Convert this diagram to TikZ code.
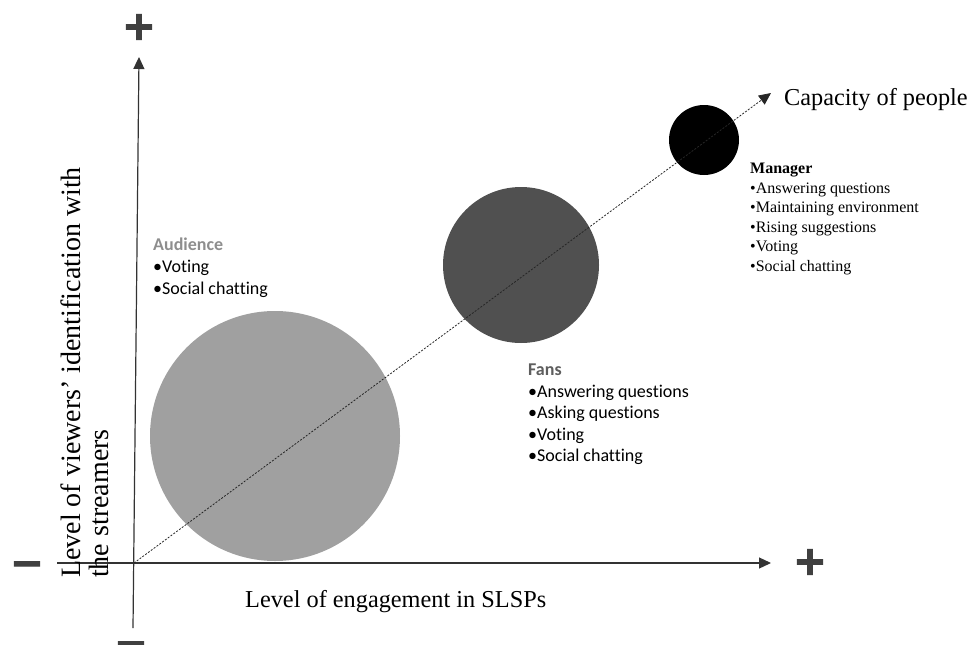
\documentclass[tikz,border=0pt]{standalone}
\usepackage{fontspec}
\setmainfont{Liberation Serif}
\newfontfamily\calib[Ligatures={NoCommon}]{Carlito}
\newfontfamily\signf[BoldFeatures={FakeBold=2.5}]{DejaVu Sans}
\usetikzlibrary{arrows.meta}
\definecolor{audfill}{HTML}{A0A0A0}
\definecolor{fanfill}{HTML}{505050}
\definecolor{audtext}{HTML}{8E8E8E}
\definecolor{fantext}{HTML}{5E5E5E}
\definecolor{signcol}{HTML}{404040}
\begin{document}
\begin{tikzpicture}[x=1pt,y=-1pt,
  axis/.style={line width=1.2pt, draw=black!80, -{Triangle[length=12pt,width=11pt]}},
  diag/.style={line width=0.8pt, draw=black!85, dash pattern=on 2pt off 1.5pt, -{Triangle[length=12pt,width=11pt]}},
  sign/.style={font=\signf\bfseries\fontsize{40}{40}\selectfont, text=signcol, inner sep=0pt},
  blob/.style={circle, draw=none, inner sep=0pt},
  serifbig/.style={font=\fontsize{24.3}{28}\selectfont, inner sep=0pt},
  ylab/.style={font=\fontsize{28}{32}\selectfont, inner sep=0pt, rotate=90, anchor=base west},
  clist/.style={font=\calib\fontsize{18}{22}\selectfont, align=left, anchor=north west, inner sep=0pt},
  tlist/.style={font=\fontsize{16}{19.5}\selectfont, align=left, anchor=north west, inner sep=0pt}
]
\useasboundingbox (0,0) rectangle (972,645);

% bubbles
\node[blob, fill=audfill, minimum size=250pt] (aud) at (275,436) {};
\node[blob, fill=fanfill, minimum size=156pt] (fans) at (521,265) {};
\node[blob, fill=black, minimum size=70pt] (mgr) at (704,140) {};

% axes
\coordinate (O) at (134,563);
\coordinate (xs) at (57,563);
\coordinate (xe) at (771,563);
\coordinate (yb) at (133,628);
\coordinate (yt) at (139,57);
\draw[axis] (xs) -- (xe);
\draw[axis] (yb) -- (yt);

% diagonal
\coordinate (ce) at (771,93);
\draw[diag] (O) -- (ce);
\node[serifbig, anchor=base west] (cap) at (784,105) {Capacity of people};

% signs
\node[sign] (yplus) at (139,27) {+};
\node[sign] (xplus) at (810,562) {+};
\node[sign] (xminus) at (27,569) {−};
\node[sign] (yminus) at (131,649) {−};

% axis labels
\node[serifbig, anchor=base west] (xlab) at (245,607) {Level of engagement in SLSPs};
\node[ylab] (ylab1) at (80,578) {Level of viewers’ identification with};
\node[ylab] (ylab2) at (108,578) {the streamers};

% texts
\node[clist] (audt) at (153,238) {\textcolor{audtext}{\bfseries Audience}\\•Voting\\•Social chatting};
\node[clist, font=\calib\fontsize{18}{21.5}\selectfont] (fant) at (528,364) {\textcolor{fantext}{\bfseries Fans}\\•Answering questions\\•Asking questions\\•Voting\\•Social chatting};
\node[tlist] (mgrt) at (750,163) {\bfseries Manager\\•Answering questions\\•Maintaining environment\\•Rising suggestions\\•Voting\\•Social chatting};
\end{tikzpicture}
\end{document}
